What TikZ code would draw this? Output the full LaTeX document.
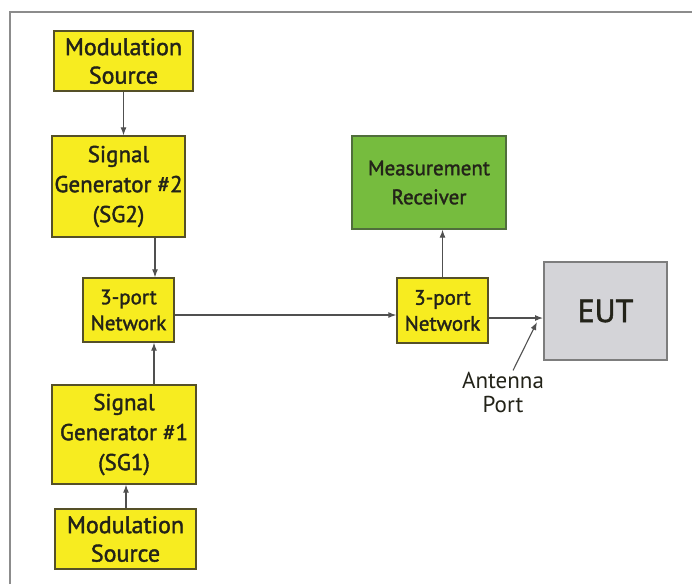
\documentclass[tikz,border=0pt]{standalone}
\usepackage{fontspec}
\setmainfont{PT Sans}
\newfontfamily\boxfont[FakeBold=1.6]{PT Sans}
\usetikzlibrary{arrows.meta}
\definecolor{ybox}{RGB}{247,236,32}
\definecolor{yedge}{RGB}{85,80,40}
\definecolor{gbox}{RGB}{118,188,62}
\definecolor{gedge}{RGB}{80,110,60}
\definecolor{ebox}{RGB}{212,212,216}
\definecolor{eedge}{RGB}{125,125,125}
\definecolor{txt}{RGB}{35,35,25}
\definecolor{arr}{RGB}{80,80,80}
\definecolor{frame}{RGB}{140,140,140}
\tikzset{
  yblock/.style={draw=yedge, fill=ybox, line width=1.4pt, inner sep=0pt, align=center, text=txt},
  gblock/.style={draw=gedge, fill=gbox, line width=1.4pt, inner sep=0pt, align=center, text=txt},
  eblock/.style={draw=eedge, fill=ebox, line width=2pt, inner sep=0pt, align=center, text=txt},
  fmod/.style={font=\boxfont\fontsize{24}{28.5}\selectfont},
  fsg/.style={font=\boxfont\fontsize{23}{30}\selectfont},
  fnet/.style={font=\boxfont\fontsize{21}{26}\selectfont},
  conn/.style={draw=arr, line width=1.1pt, -{Latex[length=8pt,width=6pt]}},
}
\begin{document}
\begin{tikzpicture}[x=1pt,y=-1pt]
\useasboundingbox (0,0) rectangle (692,584);
\fill[white] (0,0) rectangle (692,584);
\draw[frame, line width=2pt] (10,584) -- (10,12) -- (692,12);

\node[yblock, fmod, minimum width=139pt, minimum height=60pt] (modtop) at (123.5,61) {Modulation\\Source};
\node[yblock, fsg, minimum width=133pt, minimum height=101pt] (sg2) at (118.5,186.5) {Signal\\Generator \#2\\(SG2)};
\node[yblock, fnet, minimum width=91pt, minimum height=64pt] (net1) at (128.5,310) {3-port\\Network};
\node[yblock, fsg, minimum width=144pt, minimum height=99pt] (sg1) at (124,434.5) {Signal\\Generator \#1\\(SG1)};
\node[yblock, fmod, minimum width=141pt, minimum height=60pt] (modbot) at (125.5,539) {Modulation\\Source};
\node[yblock, fnet, minimum width=91pt, minimum height=65pt] (net2) at (442.5,310.5) {3-port\\Network};
\node[gblock, font=\boxfont\fontsize{21}{29}\selectfont, minimum width=154pt, minimum height=93pt] (mr) at (429,182.5) {Measurement\\Receiver};
\node[eblock, font=\boxfont\fontsize{32}{34}\selectfont, minimum width=123pt, minimum height=98pt] (eut) at (605.5,311) {EUT};
\node[align=center, text=txt, inner sep=1pt, font=\fontsize{23}{24}\selectfont] (ant) at (503,392) {Antenna\\Port};

\draw[conn] (modtop.south) -- (modtop.south |- sg2.north);
\draw[conn] ([xshift=36.5pt]sg2.south) -- ([xshift=36.5pt]sg2.south |- net1.north);
\draw[conn] ([xshift=30pt]sg1.north) -- ([xshift=30pt]sg1.north |- net1.south);
\draw[conn] ([xshift=0.5pt]modbot.north) -- ([xshift=0.5pt]modbot.north |- sg1.south);
\draw[conn] ([yshift=-5pt]net1.east) -- ([yshift=-5pt]net1.east -| net2.west);
\draw[conn] (net2.north) -- (net2.north |- mr.south);
\draw[conn] ([yshift=-7.5pt]net2.east) -- ([yshift=-7.5pt]net2.east -| eut.west);
\coordinate (antport) at (537,322);
\draw[conn] ([xshift=10pt]ant.north) -- (antport);
\end{tikzpicture}
\end{document}
